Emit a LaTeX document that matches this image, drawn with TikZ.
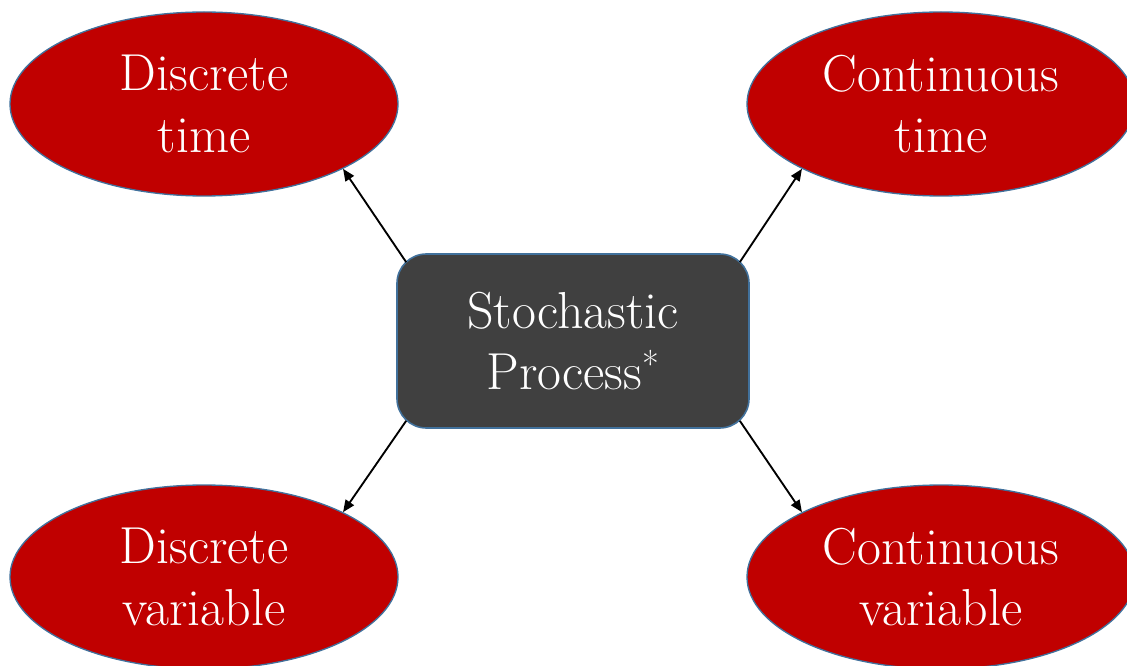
\documentclass[tikz,border=0pt]{standalone}
\usepackage{fontspec}
\usetikzlibrary{arrows.meta,shapes.geometric,calc}
\definecolor{ellred}{HTML}{C00000}
\definecolor{edgeblue}{HTML}{41719C}
\definecolor{boxgray}{HTML}{404040}
\begin{document}
\begin{tikzpicture}[x=0.75pt,y=-0.75pt,
  ell/.style={ellipse,draw=edgeblue,line width=1pt,fill=ellred,text=white,
    minimum width=291pt,minimum height=138pt,inner sep=0pt,align=center,
    font=\fontsize{39}{46}\selectfont},
  spbox/.style={rectangle,rounded corners=22pt,draw=edgeblue,line width=1.2pt,fill=boxgray,text=white,
    minimum width=264pt,minimum height=130.5pt,inner sep=0pt,align=center,
    font=\fontsize{39}{46}\selectfont},
  conn/.style={line width=1.4pt,-{Triangle[length=9pt,width=7.5pt]}}]
\useasboundingbox (0,0) rectangle (1127,666);
\node[ell] (dt) at (204,104) {Discrete\\time};
\node[ell] (ct) at (941,104) {Continuous\\time};
\node[ell] (dv) at (204,577) {Discrete\\variable};
\node[ell] (cv) at (941,577) {Continuous\\variable};
\node[spbox] (sp) at (573,341) {Stochastic\\Process\textsuperscript{*}};
\draw[conn] ($(sp.north west)+(10,9)$) -- (dt.-25);
\draw[conn] ($(sp.north east)+(-10,9)$) -- (ct.-155);
\draw[conn] ($(sp.south west)+(10,-8)$) -- (dv.25);
\draw[conn] ($(sp.south east)+(-10,-8)$) -- (cv.155);
\end{tikzpicture}
\end{document}
